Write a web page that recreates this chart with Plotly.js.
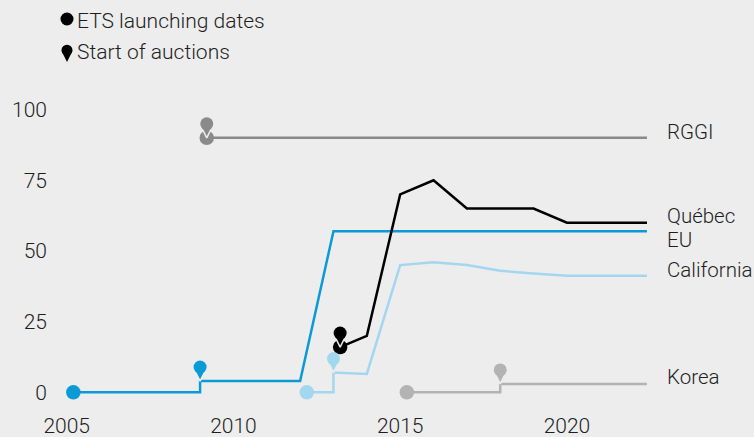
<!DOCTYPE html>
<html>
<head>
<meta charset="utf-8">
<script src="https://cdn.plot.ly/plotly-3.0.1.min.js"></script>
<style>
  html, body { margin: 0; padding: 0; background: #ededed; }
  #chart { width: 754px; height: 437px; }
</style>
</head>
<body>
<div id="chart"></div>
<script>
// ---------- data ----------
const rggiX = [2009.2, 2022.4];
const rggiY = [90, 90];

const euX = [2005.2, 2009, 2009, 2012, 2013, 2022.4];
const euY = [0, 0, 4, 4, 57, 57];

const califX = [2012.2, 2013, 2013, 2014, 2015, 2016, 2017, 2018, 2019, 2020, 2021, 2022.4];
const califY = [0, 0, 7, 6.5, 45, 46, 45, 43, 42, 41.2, 41.2, 41.2];

const quebecX = [2013.2, 2014, 2015, 2016, 2017, 2018, 2019, 2020, 2021, 2022.4];
const quebecY = [16, 20, 70, 75, 65, 65, 65, 60, 60, 60];

const koreaX = [2015.2, 2018, 2018, 2022.4];
const koreaY = [0, 0, 3, 3];

// start of auctions (pin positions)
const auctionNames = ['EU', 'RGGI', 'California', 'Québec', 'Korea'];
const auctionX = [2009, 2009.2, 2013, 2013.2, 2018];
const auctionY = [4, 90, 7, 16, 3];

const xTicks = [2005, 2010, 2015, 2020];
const yTicks = [0, 25, 50, 75, 100];

const legendLabels = ['ETS launching dates', 'Start of auctions'];

// ---------- styles ----------
const C = {
  rggi: '#8a8a8a',
  eu: '#0a9ad6',
  calif: '#a3d7f0',
  quebec: '#000000',
  korea: '#b3b3b3',
  bg: '#ededed',
  text: '#1e1e1e'
};
const FONT = 'Roboto, Liberation Sans, Arial, sans-serif';
const FS = 21;
const FW = 300;

const W = 754, H = 437;
const M = {l: 50, r: 36.6, t: 0, b: 22};
const plotH = H - M.t - M.b;
const yRange = [-8, 112];
const yDomTop = (plotH - 75.6) / plotH;
const pxPerUnit = plotH * yDomTop / (yRange[1] - yRange[0]);

const HEAD_OFF_PX = 14;   // pin head centre above its tip
const headOff = HEAD_OFF_PX / pxPerUnit;

const series = [
  {name: 'RGGI', x: rggiX, y: rggiY, color: C.rggi},
  {name: 'Korea', x: koreaX, y: koreaY, color: C.korea},
  {name: 'California', x: califX, y: califY, color: C.calif},
  {name: 'EU', x: euX, y: euY, color: C.eu},
  {name: 'Québec', x: quebecX, y: quebecY, color: C.quebec}
];
const colorOf = {RGGI: C.rggi, Korea: C.korea, California: C.calif, EU: C.eu, 'Québec': C.quebec};

const traces = [];
series.forEach(s => {
  traces.push({
    type: 'scatter', mode: 'lines', x: s.x, y: s.y,
    line: {color: s.color, width: 2.5}, hoverinfo: 'skip', showlegend: false
  });
});
// launching dots: first point of each series
traces.push({
  type: 'scatter', mode: 'markers',
  x: series.map(s => s.x[0]), y: series.map(s => s.y[0]),
  marker: {size: 14.5, color: series.map(s => s.color), symbol: 'circle'},
  cliponaxis: false, hoverinfo: 'skip', showlegend: false
});
// auction pins: tip (arrow) then head (circle)
const pinColors = auctionNames.map(n => colorOf[n]);
traces.push({
  type: 'scatter', mode: 'markers', x: auctionX, y: auctionY,
  marker: {size: 12, symbol: 'arrow-down', color: pinColors, line: {color: C.bg, width: 1.5}},
  cliponaxis: false, hoverinfo: 'skip', showlegend: false
});
traces.push({
  type: 'scatter', mode: 'markers', x: auctionX, y: auctionY.map(v => v + headOff),
  marker: {size: 13, symbol: 'circle', color: pinColors, line: {width: 0}},
  cliponaxis: false, hoverinfo: 'skip', showlegend: false
});

// legend keys on a pixel-like overlay axis (x2/y2)
const legKeyX = 67;
const legRowY = [19, 62];
traces.push({
  type: 'scatter', mode: 'markers', xaxis: 'x2', yaxis: 'y2',
  x: [legKeyX], y: [legRowY[0]],
  marker: {size: 13, color: '#000', symbol: 'circle'},
  cliponaxis: false, hoverinfo: 'skip', showlegend: false
});
traces.push({
  type: 'scatter', mode: 'markers', xaxis: 'x2', yaxis: 'y2',
  x: [legKeyX], y: [legRowY[1]],
  marker: {size: 10, color: '#000', symbol: 'arrow-down', line: {width: 0}},
  cliponaxis: false, hoverinfo: 'skip', showlegend: false
});
traces.push({
  type: 'scatter', mode: 'markers', xaxis: 'x2', yaxis: 'y2',
  x: [legKeyX], y: [legRowY[1] - 11.8],
  marker: {size: 11, color: '#000', symbol: 'circle', line: {width: 0}},
  cliponaxis: false, hoverinfo: 'skip', showlegend: false
});

const labelPos = [
  {text: 'RGGI', y: 91.9},
  {text: 'Québec', y: 62.4},
  {text: 'EU', y: 54},
  {text: 'California', y: 43.3},
  {text: 'Korea', y: 5.3}
];
const tf = {family: FONT, size: FS, color: C.text, weight: FW};
const lf = {family: FONT, size: 20.5, color: C.text, weight: FW};
const annotations = labelPos.map(l => ({
  xref: 'x', yref: 'y', x: 2023, y: l.y, text: l.text, showarrow: false,
  xanchor: 'left', yanchor: 'middle', xshift: -1.5, font: lf
}));
[[legendLabels[0], 20.8], [legendLabels[1], 51.7]].forEach(([t, y]) => {
  annotations.push({
    xref: 'x2', yref: 'y2', x: 75, y: y, text: t, showarrow: false,
    xanchor: 'left', yanchor: 'middle', font: tf
  });
});

const layout = {
  width: W, height: H,
  margin: M,
  paper_bgcolor: C.bg, plot_bgcolor: 'rgba(0,0,0,0)',
  font: tf,
  showlegend: false,
  xaxis: {
    range: [2004.5, 2024.5], tickvals: xTicks, ticktext: xTicks.map(String),
    showgrid: false, zeroline: false, showline: false, ticks: '',
    ticklabelstandoff: -4,
    tickfont: tf, fixedrange: true
  },
  yaxis: {
    range: yRange, domain: [0, yDomTop], tickvals: yTicks, ticktext: yTicks.map(String),
    showgrid: false, zeroline: false, showline: false, ticks: '',
    ticklabelstandoff: 2,
    tickfont: tf, fixedrange: true
  },
  xaxis2: {domain: [0, 1], range: [M.l, W - M.r], visible: false, anchor: 'y2', fixedrange: true},
  yaxis2: {domain: [0, 1], range: [plotH, 0], visible: false, anchor: 'x2', fixedrange: true},
  annotations: annotations
};

Plotly.newPlot('chart', traces, layout, {displayModeBar: false, staticPlot: true});
</script>
</body>
</html>
